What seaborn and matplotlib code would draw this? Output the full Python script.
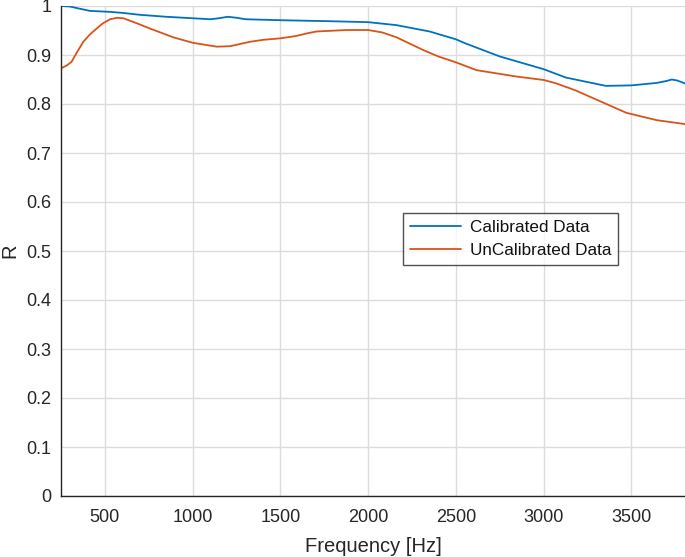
import matplotlib
matplotlib.use("Agg")
import matplotlib.pyplot as plt
import seaborn as sns
import pandas as pd

cal_freq = [250, 300, 350, 415, 530, 600, 700, 850, 1000, 1100, 1150, 1200, 1250, 1300,
            1500, 1780, 2000, 2160, 2350, 2500, 2552, 2750, 3000, 3126, 3354, 3500,
            3644, 3700, 3730, 3760, 3805]
cal_r = [1.000, 0.999, 0.995, 0.990, 0.988, 0.986, 0.982, 0.978, 0.975, 0.973, 0.975,
         0.978, 0.976, 0.973, 0.971, 0.969, 0.967, 0.961, 0.948, 0.932, 0.924, 0.897,
         0.871, 0.854, 0.837, 0.838, 0.843, 0.847, 0.850, 0.848, 0.842]

unc_freq = [250, 280, 310, 340, 377, 415, 453, 490, 530, 570, 605, 680, 757, 890, 1000,
            1137, 1214, 1327, 1402, 1500, 1592, 1650, 1706, 1877, 2000, 2080, 2162,
            2314, 2400, 2500, 2618, 2846, 3000, 3072, 3180, 3281, 3471, 3644, 3805]
unc_r = [0.873, 0.878, 0.886, 0.905, 0.927, 0.942, 0.954, 0.965, 0.973, 0.976, 0.975,
         0.965, 0.954, 0.936, 0.925, 0.917, 0.918, 0.927, 0.931, 0.934, 0.939, 0.944,
         0.948, 0.951, 0.951, 0.946, 0.936, 0.910, 0.897, 0.885, 0.869, 0.856, 0.849,
         0.842, 0.828, 0.812, 0.782, 0.767, 0.759]

series_names = ["Calibrated Data", "UnCalibrated Data"]
x_ticks = [500, 1000, 1500, 2000, 2500, 3000, 3500]
y_ticks = [0, 0.1, 0.2, 0.3, 0.4, 0.5, 0.6, 0.7, 0.8, 0.9, 1]
y_tick_labels = ["0", "0.1", "0.2", "0.3", "0.4", "0.5", "0.6", "0.7", "0.8", "0.9", "1"]

df = pd.concat([
    pd.DataFrame({"Frequency": cal_freq, "R": cal_r, "Series": series_names[0]}),
    pd.DataFrame({"Frequency": unc_freq, "R": unc_r, "Series": series_names[1]}),
])

sns.set_theme(style="white")
plt.rcParams["font.family"] = ["Liberation Sans", "DejaVu Sans"]

fig = plt.figure(figsize=(6.85, 5.57), dpi=100)
ax = fig.add_axes([61 / 685, 61 / 557, 624 / 685, 490 / 557])

palette = {series_names[0]: "#0072BD", series_names[1]: "#D95319"}
sns.lineplot(data=df, x="Frequency", y="R", hue="Series", palette=palette,
             linewidth=1.3, ax=ax, sort=True, estimator=None)

ax.set_xlim(250, 3805)
ax.set_ylim(0, 1)
ax.set_xticks(x_ticks)
ax.set_xticklabels([str(t) for t in x_ticks])
ax.set_yticks(y_ticks)
ax.set_yticklabels(y_tick_labels)

ax.grid(True, color="#dcdcdc", linewidth=1.0)
ax.set_axisbelow(True)
for s in ["top", "right"]:
    ax.spines[s].set_visible(False)
for s in ["left", "bottom"]:
    ax.spines[s].set_color("#262626")
    ax.spines[s].set_linewidth(1.0)

ax.tick_params(axis="both", direction="in", length=5, width=1, color="#262626",
               labelsize=13, labelcolor="#262626", pad=7)
ax.tick_params(axis="x", pad=9)

ax.set_xlabel("Frequency [Hz]", fontsize=14.5, color="#262626", labelpad=8)
ax.set_ylabel("R", fontsize=14.5, color="#262626")
ax.yaxis.set_label_coords(-0.066, 0.5)

leg = ax.legend(loc="upper left", bbox_to_anchor=(0.548, 0.577), borderaxespad=0,
                fontsize=12.3, frameon=True, fancybox=False, handlelength=3.0,
                handletextpad=0.5, borderpad=0.4, labelspacing=0.45)
leg.get_frame().set_edgecolor("#262626")
leg.get_frame().set_linewidth(1.0)
for t in leg.get_texts():
    t.set_color("#111111")

fig.savefig("out.png", dpi=100)
